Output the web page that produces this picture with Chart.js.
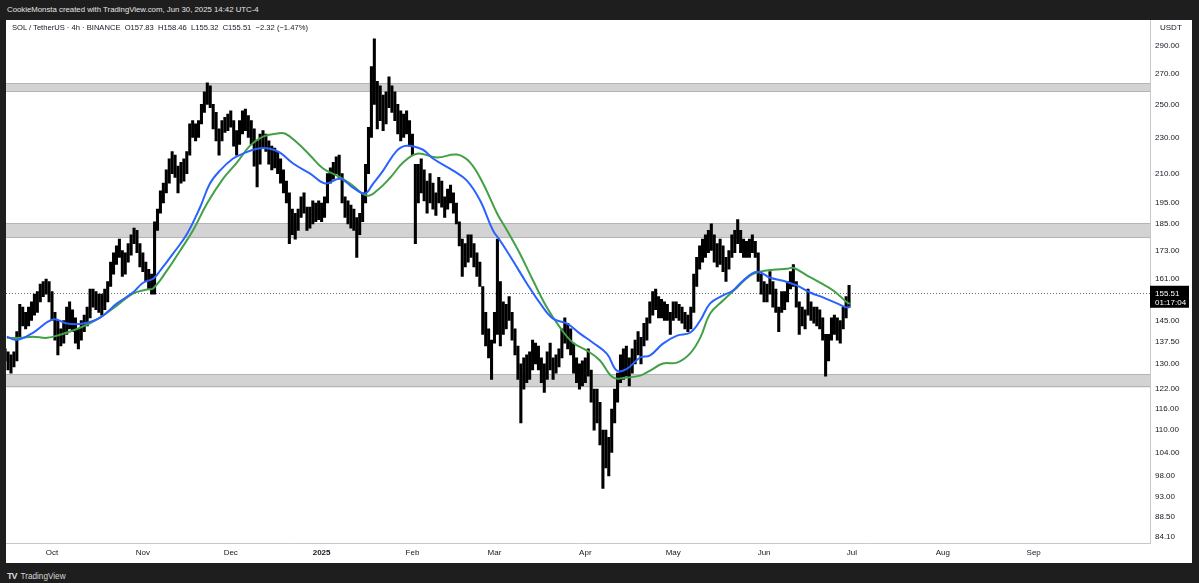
<!DOCTYPE html>
<html>
<head>
<meta charset="utf-8">
<script src="https://cdn.jsdelivr.net/npm/chart.js@4.4.1/dist/chart.umd.min.js"></script>
<style>
    html, body { margin: 0; padding: 0; background: #1e1e1e; width: 1199px; height: 583px; overflow: hidden; font-family: 'Liberation Sans', Arial, sans-serif; }
    #topbar { position: absolute; left: 7px; top: 5px; color: #e6e6e6; font-size: 7.8px; }
    #frame { position: absolute; left: 6px; top: 20px; width: 1186px; height: 543px; background: #fff; overflow: hidden; }
    #chartBox { position: absolute; left: 0; top: 0; width: 1186px; }
    #legend { position: absolute; left: 6px; top: 3px; font-size: 7.6px; color: #131722; white-space: pre; }
    #logo { position: absolute; left: 7px; top: 571px; color: #d6d6d6; font-size: 8.2px; }
    #logo b { font-size: 9px; letter-spacing: -1px; margin-right: 4px; }
</style>
</head>
<body>
<div id="topbar">CookieMonsta created with TradingView.com, Jun 30, 2025 14:42 UTC-4</div>
<div id="frame">
    <div id="chartBox"><canvas id="chart"></canvas></div>
    <div id="legend">SOL / TetherUS · 4h · BINANCE  O157.83  H158.46  L155.32  C155.51  −2.32 (−1.47%)</div>
</div>
<div id="logo"><b>TV</b>TradingView</div>
<script>
// day 0 = Oct 1, 2024; one entry per day starting Sep 15, 2024
const startDay = -16;
const lows = [
    131,128,127,129,131,139,143,142,143,145,
    147,148,152,154,155,152,145,138,133,136,
    137,140,142,141,137,135,138,141,143,146,
    150,149,148,147,149,152,158,163,167,170,
    162,163,168,171,176,172,166,164,160,157,
    155,155,182,190,195,200,205,210,208,200,
    205,206,210,220,230,228,230,238,245,250,
    248,235,228,220,228,233,234,236,225,220,
    226,232,234,230,226,214,203,215,224,222,
    215,212,213,210,205,200,195,176,180,178,
    182,188,190,182,183,185,186,187,186,188,
    195,205,207,210,208,195,188,185,183,182,
    170,180,186,195,210,230,250,235,240,234,
    238,248,245,240,232,228,230,232,225,220,
    176,195,200,196,190,195,192,189,195,193,
    188,192,195,190,185,175,162,166,168,170,
    166,162,158,140,136,132,125,137,140,136,
    140,142,145,138,133,125,112,122,124,125,
    128,130,128,124,121,125,128,125,127,129,
    132,137,135,133,127,124,122,123,124,126,
    118,110,112,106,95,100,98,104,112,118,
    124,125,126,123,127,130,133,130,136,138,
    144,147,149,146,146,145,145,140,145,146,
    145,144,142,141,142,148,158,165,168,170,
    172,173,168,166,167,164,160,165,170,172,
    176,172,170,170,170,172,170,160,155,152,
    152,155,150,148,141,148,149,152,157,158,
    150,140,143,142,147,145,144,143,142,138,
    126,131,138,140,138,137,142,146,150
];
const highs = [
    135,134,133,134,141,151,150,148,150,152,
    155,156,159,160,161,160,156,148,145,142,
    145,150,152,149,146,142,145,147,150,157,
    157,156,155,155,157,160,168,172,175,178,
    173,172,176,180,183,182,176,172,168,165,
    163,186,192,201,205,212,218,222,220,214,
    216,218,222,238,240,238,240,250,258,264,
    262,250,245,235,240,242,244,246,240,234,
    240,246,247,243,240,235,228,232,234,232,
    228,225,224,222,218,212,206,200,192,190,
    192,198,200,193,193,196,195,196,195,198,
    210,213,216,219,220,210,198,196,194,192,
    188,190,200,215,236,275,295,265,262,256,
    258,268,262,258,250,246,244,246,240,232,
    215,215,218,212,206,210,205,200,208,206,
    198,202,204,200,195,186,178,176,180,180,
    176,172,168,158,148,142,138,148,178,160,
    152,151,154,148,142,136,130,132,133,134,
    138,137,136,132,130,134,137,132,133,135,
    142,146,144,142,137,132,130,131,132,135,
    128,122,122,118,110,110,108,116,122,127,
    133,135,136,132,135,138,141,139,144,146,
    152,156,157,154,153,152,151,148,152,152,
    151,150,148,147,150,163,170,175,178,180,
    182,185,180,176,178,175,170,173,180,182,
    187,182,178,177,178,180,177,172,163,160,
    159,164,160,157,150,156,156,160,164,167,
    160,152,150,149,157,152,150,150,149,146,
    140,140,146,147,146,145,150,154,158.46
];

// moving averages (day, price)
const blueDays = [-15.4,-11.9,-6.5,0.3,5.1,10.6,16.4,22.2,27.6,31.1,34.5,36.9,41.3,46.1,50.5,53.9,57.3,61.8,65.2,70.0,74.4,77.8,82.3,88.1,93.2,98.3,102.7,106.8,109.6,113.0,117.7,121.0,126.6,130.0,136.9,141.6,146.1,150.5,152.9,157.3,162.1,166.6,171.0,175.8,180.2,184.6,189.4,192.8,196.2,200.7,204.1,208.5,213.3,217.7,221.2,224.6,229.0,232.4,235.8,240.6,245.1,249.5,254.3,258.7,263.1,267.9,271.3,272.4];
const blueValues = [139.2,138.1,140.6,145.4,143.9,143.9,146.1,151.4,155.6,159.5,161.1,164.4,171.6,180.5,192.8,204.8,211.6,218.1,220.8,223.6,223.6,221.4,215.4,210.0,204.8,207.3,202.7,199.7,204.8,211.6,222.5,225.3,223.0,218.1,211.6,206.3,196.2,181.9,177.4,168.6,159.1,151.4,145.7,143.9,140.3,137.1,133.3,127.8,128.4,132.1,132.8,136.8,139.6,140.6,145.0,151.4,154.5,156.4,160.3,164.0,161.5,160.3,158.3,155.6,153.7,151.4,149.8,150.2];
const greenDays = [-15.4,-10.9,-6.5,-1.7,2.7,9.6,16.4,22.2,27.6,32.4,34.5,39.2,43.7,48.1,52.9,58.4,63.1,67.6,72.0,76.8,79.5,83.6,88.1,92.5,97.3,101.7,107.5,110.9,115.4,119.8,124.6,131.4,138.2,142.7,147.1,151.9,155.3,159.7,164.2,168.9,173.4,177.8,182.6,187.0,191.5,196.2,200.7,204.1,208.5,213.3,217.7,221.2,224.6,229.0,233.8,238.2,241.6,246.1,250.9,252.9,257.7,262.1,266.6,271.3,272.4];
const greenValues = [138.8,138.8,139.2,138.8,139.9,142.4,146.1,150.6,155.2,156.8,157.2,164.4,172.9,181.9,194.7,207.3,215.9,225.3,230.5,232.3,232.3,227.1,219.8,212.7,208.9,204.8,198.7,201.2,207.8,215.9,220.8,218.7,220.3,215.9,204.8,189.9,181.9,171.6,160.3,149.8,142.4,137.1,134.4,131.1,125.6,125.6,126.2,127.8,130.1,130.4,133.4,138.8,147.6,152.5,157.6,162.4,164.0,164.8,165.2,165.6,162.4,159.5,156.4,151.8,151.2];

// support / resistance zones
const zoneLows = [122.5, 178.5, 257.9];
const zoneHighs = [126.6, 185.2, 263.8];

const lastPrice = 155.51;
const countdown = '01:17:04';

const priceTicks = [84.1, 88.5, 93, 98, 104, 110, 116, 122, 130, 137.5, 145, 161, 173, 185, 195, 210, 230, 250, 270, 290];
const monthDays = [0, 31, 61, 92, 123, 151, 182, 212, 243, 273, 304, 335];
const monthLabels = ['Oct', 'Nov', 'Dec', '2025', 'Feb', 'Mar', 'Apr', 'May', 'Jun', 'Jul', 'Aug', 'Sep'];

const bars = lows.map((lo, i) => ({ x: startDay + i, y: [lo, highs[i]] }));
const bluePts = blueDays.map((d, i) => ({ x: d, y: blueValues[i] }));
const greenPts = greenDays.map((d, i) => ({ x: d, y: greenValues[i] }));

const FONT = "'Liberation Sans', Arial, sans-serif";

const overlays = {
    id: 'overlays',
    beforeDatasetsDraw(chart) {
        const { ctx, chartArea: a, scales: { y } } = chart;
        ctx.save();
        zoneLows.forEach((lo, i) => {
            const top = y.getPixelForValue(zoneHighs[i]);
            const bot = y.getPixelForValue(lo);
            ctx.fillStyle = '#d3d3d3';
            ctx.fillRect(a.left, top, a.right - a.left, bot - top);
            ctx.strokeStyle = '#b4b4b4';
            ctx.lineWidth = 1;
            ctx.beginPath();
            ctx.moveTo(a.left, Math.round(top) + 0.5); ctx.lineTo(a.right, Math.round(top) + 0.5);
            ctx.moveTo(a.left, Math.round(bot) - 0.5); ctx.lineTo(a.right, Math.round(bot) - 0.5);
            ctx.stroke();
        });
        const py = Math.round(y.getPixelForValue(lastPrice)) + 0.5;
        ctx.strokeStyle = '#6a6d78';
        ctx.setLineDash([1, 2]);
        ctx.beginPath();
        ctx.moveTo(a.left, py); ctx.lineTo(a.right, py);
        ctx.stroke();
        ctx.restore();
    },
    afterDraw(chart) {
        const { ctx, chartArea: a, scales: { y } } = chart;
        const py = y.getPixelForValue(lastPrice);
        ctx.save();
        ctx.fillStyle = '#000';
        ctx.fillRect(a.right, py - 7, 39, 22);
        ctx.fillStyle = '#fff';
        ctx.font = '8px ' + FONT;
        ctx.textBaseline = 'middle';
        ctx.textAlign = 'left';
        ctx.fillText(lastPrice.toFixed(2), a.right + 5, py + 1);
        ctx.fillText(countdown, a.right + 5, py + 10);
        ctx.fillStyle = '#131722';
        ctx.fillText('USDT', a.right + 10, a.top + 8);
        ctx.restore();
    }
};

function build(height) {
    const canvas = document.getElementById('chart');
    canvas.width = 1186;
    canvas.height = height;
    canvas.style.width = '1186px';
    canvas.style.height = height + 'px';
    return new Chart(canvas, {
        type: 'bar',
        data: {
            datasets: [
                {
                    type: 'line',
                    data: bluePts,
                    borderColor: '#2962ff',
                    borderWidth: 2,
                    pointRadius: 0,
                    tension: 0.4
                },
                {
                    type: 'line',
                    data: greenPts,
                    borderColor: '#43a047',
                    borderWidth: 2,
                    pointRadius: 0,
                    tension: 0.4
                },
                {
                    type: 'bar',
                    data: bars,
                    backgroundColor: '#000',
                    barThickness: 2.4
                }
            ]
        },
        options: {
            responsive: false,
            animation: false,
            layout: { padding: 0 },
            plugins: { legend: { display: false }, tooltip: { enabled: false } },
            scales: {
                x: {
                    type: 'linear',
                    offset: false,
                    min: -15.7,
                    max: 374.7,
                    grid: { display: false, drawTicks: false },
                    border: { display: true, color: '#c8c8c8' },
                    afterBuildTicks: s => { s.ticks = monthDays.map(v => ({ value: v })); },
                    afterFit: s => { s.height = 20; },
                    ticks: {
                        autoSkip: false,
                        maxRotation: 0,
                        padding: 5,
                        color: '#131722',
                        font: c => ({ family: FONT, size: 8, weight: (c.tick && c.tick.value === 92) ? 'bold' : 'normal' }),
                        callback: (v, i) => monthLabels[i]
                    }
                },
                y: {
                    type: 'logarithmic',
                    position: 'right',
                    min: 82.77,
                    max: 309.4,
                    grid: { display: false, drawTicks: false },
                    border: { display: true, color: '#c8c8c8' },
                    afterBuildTicks: s => { s.ticks = priceTicks.map(v => ({ value: v })); },
                    afterFit: s => { s.width = 42; },
                    ticks: {
                        padding: 5,
                        color: '#131722',
                        font: { family: FONT, size: 8 },
                        callback: v => Number(v).toFixed(2)
                    }
                }
            }
        },
        plugins: [overlays]
    });
}

let chart = build(543);
const off = Math.round(chart.chartArea.top);
if (off > 0) {
    chart.destroy();
    document.getElementById('chartBox').style.top = (-off) + 'px';
    chart = build(543 + off);
}
</script>
</body>
</html>
